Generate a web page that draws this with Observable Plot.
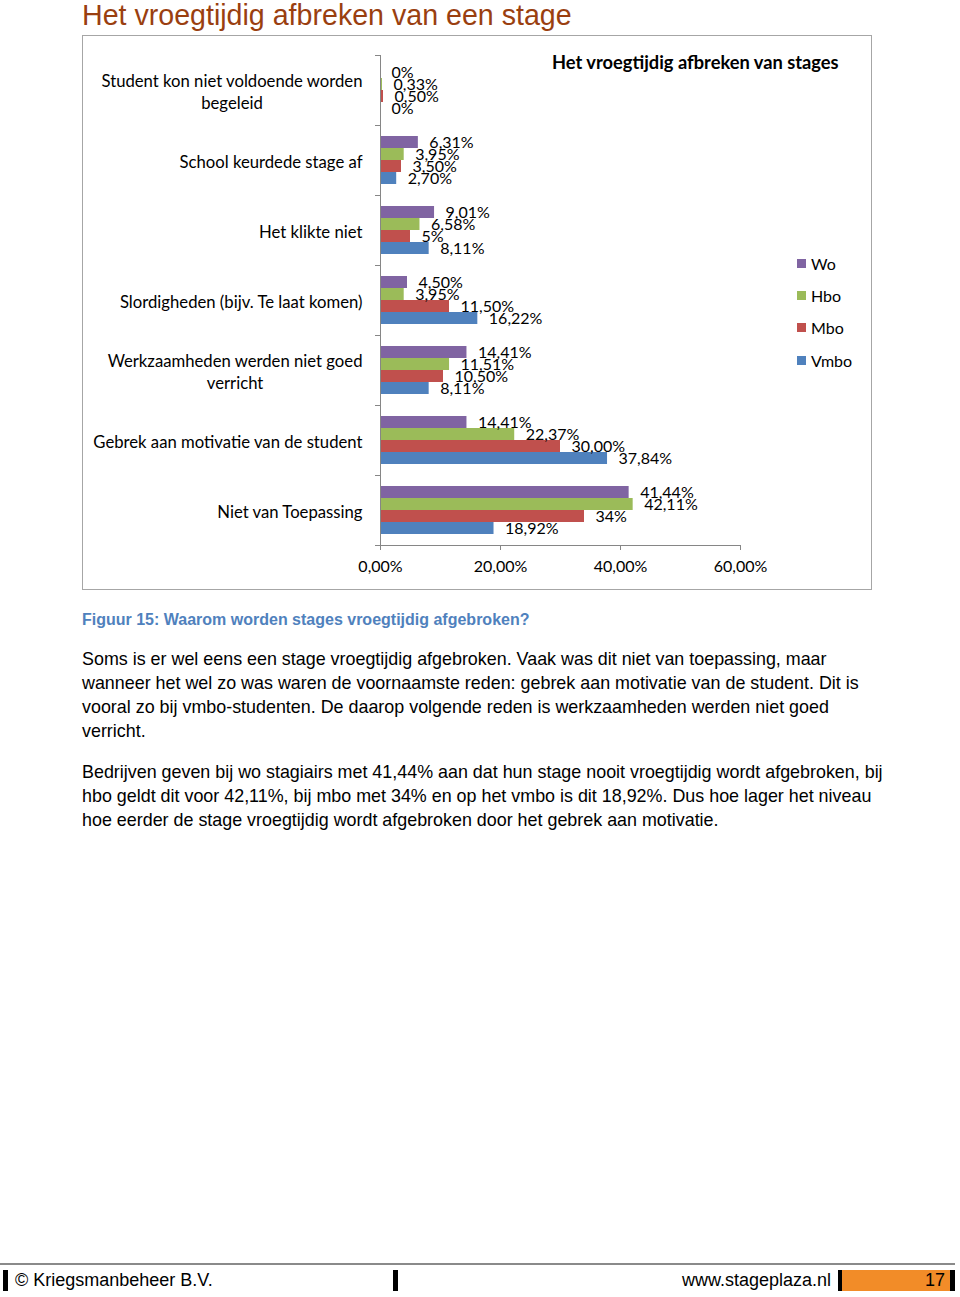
<!DOCTYPE html>
<html>
<head>
<meta charset="utf-8">
<script src="https://cdn.jsdelivr.net/npm/d3@7"></script>
<script src="https://cdn.jsdelivr.net/npm/@observablehq/plot@0.6"></script>
<style>
  html, body { margin: 0; padding: 0; background: #fff; }
  body { width: 960px; height: 1297px; position: relative; overflow: hidden; font-family: "Liberation Sans", Arial, sans-serif; color: #000; }
  #pageTitle { position: absolute; left: 82px; top: -1px; font-size: 28.6px; line-height: 32px; color: #9a3f10; white-space: nowrap; }
  #box { position: absolute; left: 82px; top: 35px; width: 790px; height: 555px; box-sizing: border-box; border: 1px solid #a6a6a6; }
  #chart { position: absolute; left: 82px; top: 35px; width: 790px; height: 555px; }
  #chartTitle { position: absolute; left: 552px; top: 51px; font-family: Lato, sans-serif; font-weight: bold; font-size: 18.3px; white-space: nowrap; }
  #legend { position: absolute; left: 797px; top: 252px; font-family: Lato, sans-serif; font-size: 16px; }
  #legend .item { height: 32.3px; display: flex; align-items: center; position: relative; top: -5px; }
  #legend .sw { width: 9px; height: 9px; margin-right: 5px; }
  #caption { position: absolute; left: 82px; top: 611px; font-size: 16px; font-weight: bold; color: #4f81bd; white-space: nowrap; }
  .para { position: absolute; left: 82px; font-size: 17.9px; line-height: 24px; white-space: nowrap; }
  .para span { display: block; }
  #footerLine { position: absolute; left: 0; top: 1263px; width: 955px; height: 2px; background: #8a8a8a; }
  .bar { position: absolute; top: 1270px; height: 21px; background: #000; }
  #orange { position: absolute; left: 842px; top: 1270px; width: 108px; height: 21px; background: #f28c28; }
  .foot { position: absolute; top: 1269px; font-size: 18px; line-height: 22px; white-space: nowrap; }
</style>
</head>
<body>
<div id="pageTitle">Het vroegtijdig afbreken van een stage</div>
<div id="box"></div>
<div id="chart"></div>
<div id="chartTitle">Het vroegtijdig afbreken van stages</div>
<div id="legend"></div>
<div id="caption">Figuur 15: Waarom worden stages vroegtijdig afgebroken?</div>
<div class="para" id="p1" style="top:647px">
  <span>Soms is er wel eens een stage vroegtijdig afgebroken. Vaak was dit niet van toepassing, maar</span>
  <span>wanneer het wel zo was waren de voornaamste reden: gebrek aan motivatie van de student. Dit is</span>
  <span>vooral zo bij vmbo-studenten. De daarop volgende reden is werkzaamheden werden niet goed</span>
  <span>verricht.</span>
</div>
<div class="para" id="p2" style="top:760px">
  <span>Bedrijven geven bij wo stagiairs met 41,44% aan dat hun stage nooit vroegtijdig wordt afgebroken, bij</span>
  <span>hbo geldt dit voor 42,11%, bij mbo met 34% en op het vmbo is dit 18,92%. Dus hoe lager het niveau</span>
  <span>hoe eerder de stage vroegtijdig wordt afgebroken door het gebrek aan motivatie.</span>
</div>
<div id="footerLine"></div>
<div class="bar" style="left:3px;width:5px"></div>
<div class="bar" style="left:393px;width:5px"></div>
<div class="bar" style="left:838px;width:4px"></div>
<div id="orange"></div>
<div class="bar" style="left:950px;width:5px"></div>
<div class="foot" style="left:15px">© Kriegsmanbeheer B.V.</div>
<div class="foot" style="right:129px">www.stageplaza.nl</div>
<div class="foot" style="right:15px">17</div>
<script>
// ---- data ----
const categories = [
  "Student kon niet voldoende worden begeleid",
  "School keurdede stage af",
  "Het klikte niet",
  "Slordigheden (bijv. Te laat komen)",
  "Werkzaamheden werden niet goed verricht",
  "Gebrek aan motivatie van de student",
  "Niet van Toepassing"
];
const levels = ["Wo", "Hbo", "Mbo", "Vmbo"];
const levelColors = ["#8064a2", "#9bbb59", "#c0504d", "#4f81bd"];

const woValues   = [0, 6.31, 9.01, 4.50, 14.41, 14.41, 41.44];
const hboValues  = [0.33, 3.95, 6.58, 3.95, 11.51, 22.37, 42.11];
const mboValues  = [0.50, 3.50, 5, 11.50, 10.50, 30.00, 34];
const vmboValues = [0, 2.70, 8.11, 16.22, 8.11, 37.84, 18.92];

const woLabels   = ["0%", "6,31%", "9,01%", "4,50%", "14,41%", "14,41%", "41,44%"];
const hboLabels  = ["0,33%", "3,95%", "6,58%", "3,95%", "11,51%", "22,37%", "42,11%"];
const mboLabels  = ["0,50%", "3,50%", "5%", "11,50%", "10,50%", "30,00%", "34%"];
const vmboLabels = ["0%", "2,70%", "8,11%", "16,22%", "8,11%", "37,84%", "18,92%"];

const xTicks = [0, 20, 40, 60];
const xTickLabels = ["0,00%", "20,00%", "40,00%", "60,00%"];

// ---- table ----
const seriesValues = [woValues, hboValues, mboValues, vmboValues];
const seriesLabels = [woLabels, hboLabels, mboLabels, vmboLabels];
const rows = [];
categories.forEach((c, j) => levels.forEach((lv, i) => rows.push({
  category: c, level: lv, value: seriesValues[i][j], label: seriesLabels[i][j]
})));

const wrapLabel = d => d.replace(" begeleid", "\nbegeleid").replace(" verricht", "\nverricht");
const axisGray = "#868686";

const chart = Plot.plot({
  width: 790,
  height: 555,
  marginLeft: 298,
  marginRight: 132,
  marginTop: 17,
  marginBottom: 43,
  style: { fontFamily: "Lato, sans-serif", fontSize: "16px", color: "#000", background: "transparent", overflow: "visible" },
  x: { domain: [0, 60], label: null },
  y: { domain: levels, paddingInner: 0, paddingOuter: 0.87, axis: null },
  fy: { domain: categories, padding: 0, label: null },
  color: { domain: levels, range: levelColors },
  marks: [
    Plot.barX(rows, { fy: "category", y: "level", x: "value", fill: "level" }),
    Plot.ruleX([0], { stroke: axisGray, strokeWidth: 1 }),
    Plot.text(rows, { fy: "category", y: "level", x: "value", text: "label", textAnchor: "start", dx: 11, fill: "#000", fontSize: 16 }),
    Plot.axisX({ ticks: xTicks, tickFormat: d => xTickLabels[xTicks.indexOf(d)], tickSize: 5, tickPadding: 10, stroke: axisGray, fill: "#000", label: null, fontSize: 16 }),
    Plot.axisFy({ anchor: "left", tickSize: 0, tickPadding: 18, label: null, fontSize: 16.7, lineHeight: 1.32, fill: "#000", tickFormat: wrapLabel })
  ]
});
document.getElementById("chart").appendChild(chart);

// boundary ticks on the category axis and the x axis line, from the plot's scales
const svg = d3.select(chart.tagName.toLowerCase() === "svg" ? chart : chart.querySelector("svg"));
const fyScale = chart.scale("fy");
const xScale = chart.scale("x");
const x0 = xScale.apply(0);
const bounds = categories.map(c => fyScale.apply(c));
bounds.push(fyScale.apply(categories[categories.length - 1]) + fyScale.bandwidth);
const g = svg.append("g").attr("stroke", axisGray).attr("stroke-width", 1);
g.selectAll("line.bt").data(bounds).join("line")
  .attr("x1", x0 - 5).attr("x2", x0).attr("y1", d => Math.round(d) + 0.5).attr("y2", d => Math.round(d) + 0.5);
g.append("line")
  .attr("x1", x0).attr("x2", xScale.apply(xTicks[xTicks.length - 1]))
  .attr("y1", Math.round(bounds[bounds.length - 1]) + 0.5).attr("y2", Math.round(bounds[bounds.length - 1]) + 0.5);

// center the lines of wrapped category labels within their block (right-aligned block)
svg.selectAll("text").each(function () {
  const tspans = this.querySelectorAll("tspan");
  if (tspans.length < 2) return;
  const widths = Array.from(tspans, t => t.getComputedTextLength());
  const maxW = Math.max(...widths);
  tspans.forEach((t, i) => t.setAttribute("x", -(maxW - widths[i]) / 2));
});

// legend
const legend = document.getElementById("legend");
levels.forEach((lv, i) => {
  const item = document.createElement("div");
  item.className = "item";
  item.innerHTML = `<div class="sw" style="background:${levelColors[i]}"></div><span>${lv}</span>`;
  legend.appendChild(item);
});
</script>
</body>
</html>
